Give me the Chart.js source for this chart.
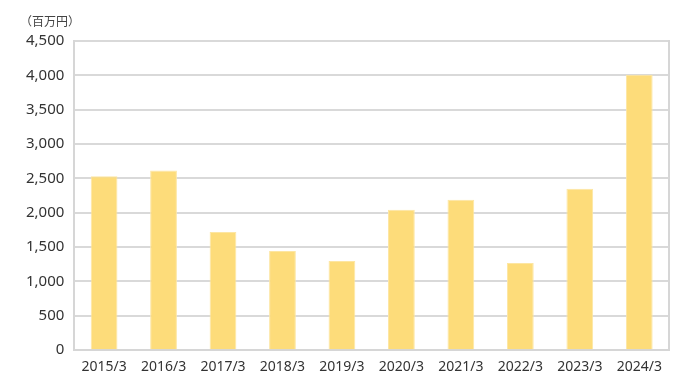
<!DOCTYPE html>
<html>
<head>
<meta charset="utf-8">
<script src="https://cdn.jsdelivr.net/npm/chart.js@4/dist/chart.umd.min.js"></script>
<style>
  body { margin: 0; background: #fff; }
  #wrap { width: 690px; height: 391px; position: relative; }
</style>
</head>
<body>
<div id="wrap"><canvas id="salesChart"></canvas></div>
<script>
const years = ['2015/3', '2016/3', '2017/3', '2018/3', '2019/3', '2020/3', '2021/3', '2022/3', '2023/3', '2024/3'];
const amounts = [2530, 2615, 1720, 1445, 1300, 2045, 2190, 1270, 2350, 4010];
const unitLabel = '（百万円）';

const unitPlugin = {
    id: 'unitLabel',
    afterDraw(chart) {
        const ctx = chart.ctx;
        ctx.save();
        ctx.font = '12px "Noto Sans CJK JP", "Noto Sans"';
        ctx.fillStyle = '#444';
        ctx.textBaseline = 'middle';
        ctx.fillText(unitLabel, 20, 21);
        ctx.restore();
    }
};

const ctx = document.getElementById('salesChart').getContext('2d');
new Chart(ctx, {
    type: 'bar',
    data: {
        labels: years,
        datasets: [{
            data: amounts,
            backgroundColor: '#fddc7a',
            borderColor: '#fde6a2',
            borderWidth: 1,
            barPercentage: 0.5,
            categoryPercentage: 0.9
        }]
    },
    options: {
        responsive: true,
        maintainAspectRatio: false,
        animation: false,
        layout: { padding: { top: 41, right: 13, left: 16, bottom: 8 } },
        plugins: {
            legend: { display: false },
            tooltip: { enabled: false }
        },
        scales: {
            x: {
                grid: { display: false, drawTicks: false },
                border: { color: '#d6d6d6', width: 2 },
                ticks: {
                    color: '#333',
                    font: { family: '"Noto Sans"', size: 14 },
                    padding: 8,
                    maxRotation: 0
                }
            },
            y: {
                min: 0,
                max: 4500,
                grid: { color: '#d9d9d9', lineWidth: 2, drawTicks: false },
                border: { color: '#d6d6d6', width: 2 },
                ticks: {
                    stepSize: 500,
                    color: '#333',
                    font: { family: '"Noto Sans"', size: 15 },
                    padding: 10,
                    callback: v => v.toLocaleString('en-US')
                }
            },
            y2: {
                position: 'right',
                min: 0,
                max: 4500,
                grid: { display: false },
                border: { color: '#d6d6d6', width: 2 },
                ticks: { display: false }
            }
        }
    },
    plugins: [unitPlugin]
});
</script>
</body>
</html>
